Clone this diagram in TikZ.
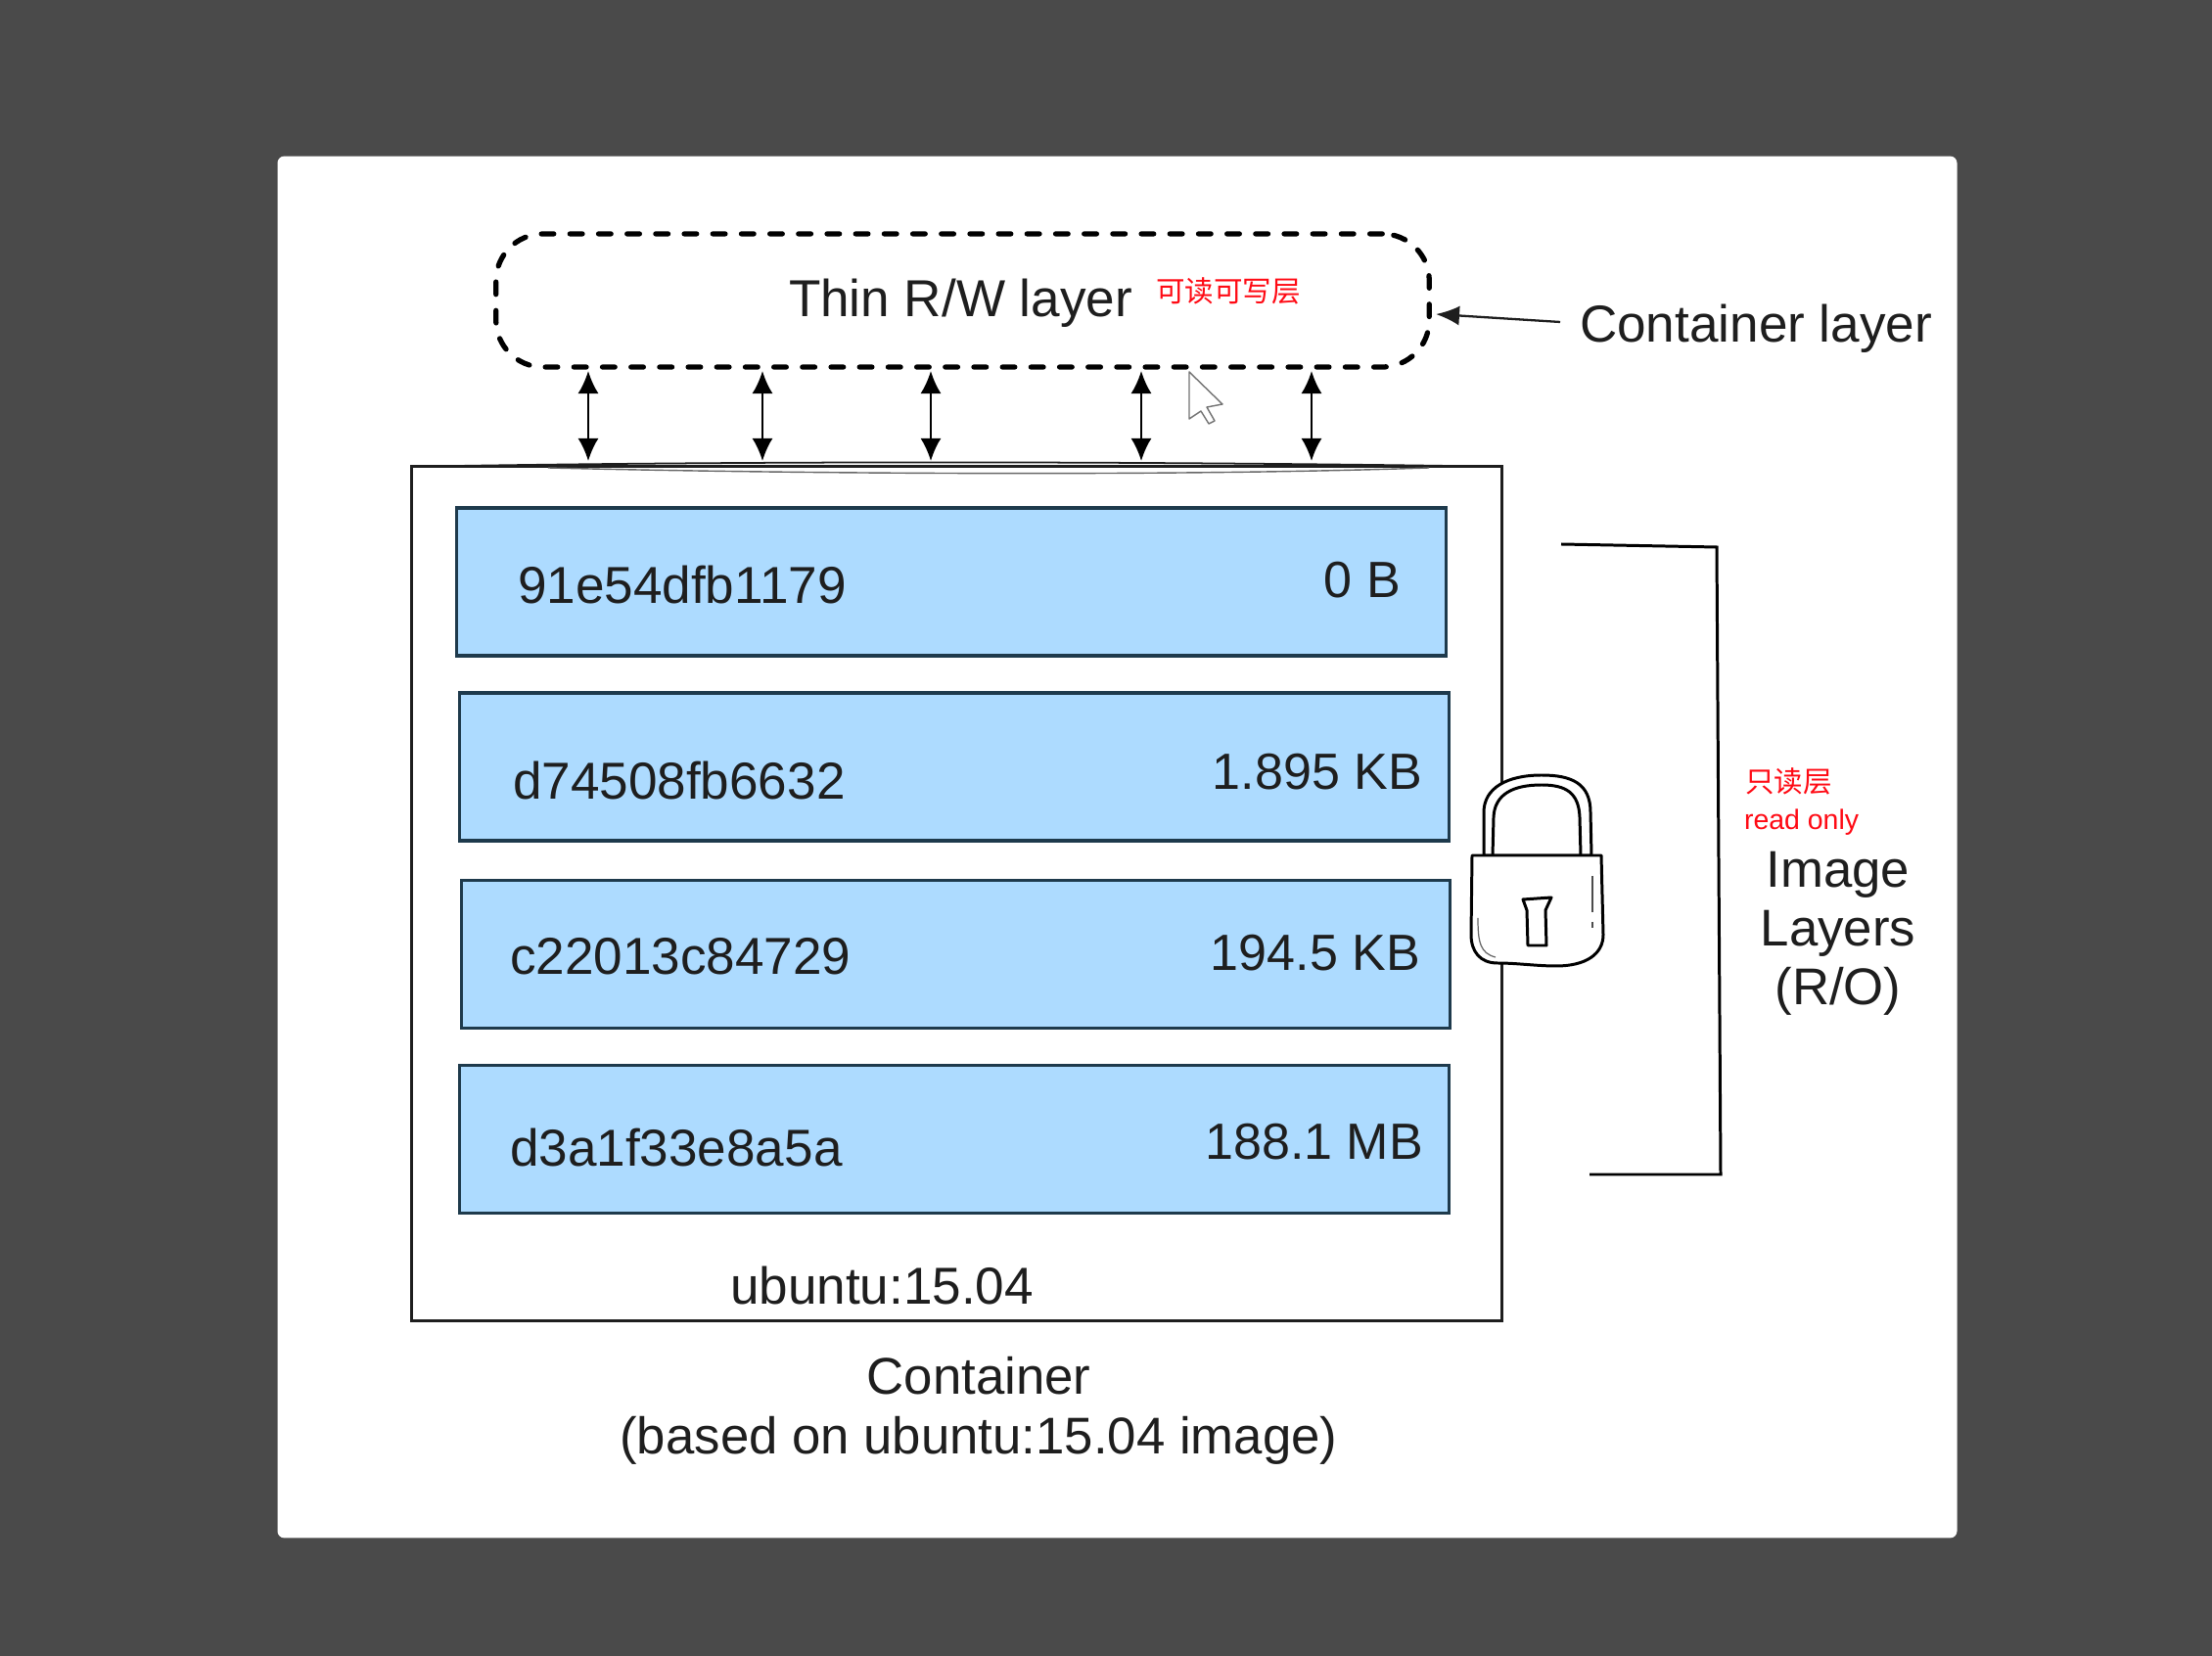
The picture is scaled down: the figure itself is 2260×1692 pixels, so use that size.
\documentclass[tikz,border=0pt]{standalone}
\usepackage{fontspec}
\setmainfont{Liberation Sans}
\newfontfamily\cjkfont{Noto Sans CJK SC}
\usetikzlibrary{arrows.meta}
\definecolor{bgdark}{HTML}{4A4A4A}
\definecolor{layerblue}{HTML}{ADDBFF}
\definecolor{layeredge}{HTML}{1E3A4C}
\definecolor{inkgray}{HTML}{1E1E1E}
\definecolor{notered}{HTML}{FF0A14}
\begin{document}
\begin{tikzpicture}[
    x=0.01cm,
    y=-0.01cm,
    every node/.style={inner sep=0pt, outer sep=0pt},
    panel/.style={fill=white, rounded corners=0.07cm, minimum width=17.15cm, minimum height=14.11cm},
    rwbox/.style={draw=black, line width=1.5pt, dash pattern=on 3.6pt off 4.7pt, line cap=round, rounded corners=0.48cm, minimum width=9.53cm, minimum height=1.36cm},
    outerbox/.style={draw=inkgray, line width=0.85pt, minimum width=11.13cm, minimum height=8.72cm},
    layerbox/.style={draw=layeredge, line width=0.95pt, fill=layerblue, minimum width=10.1cm, minimum height=1.51cm},
    label/.style={anchor=base west, font=\fontsize{15.1}{18}\selectfont, text=inkgray},
    size/.style={anchor=base east, font=\fontsize{14.8}{18}\selectfont, text=inkgray},
    middle/.style={anchor=base, font=\fontsize{15}{18}\selectfont, text=inkgray},
    note/.style={anchor=base west, font=\fontsize{8.1}{10}\selectfont, text=notered},
    rwarrow/.style={{Latex[length=0.23cm,width=0.21cm]}-{Latex[length=0.23cm,width=0.21cm]}, line width=0.65pt, black},
    leader/.style={-{Latex[length=0.24cm,width=0.2cm]}, line width=0.65pt, inkgray},
    bracket/.style={line width=0.85pt, black},
    lockline/.style={line width=0.85pt, black, line join=round}
]
\useasboundingbox (0,0) rectangle (2260,1692);
\fill[bgdark] (0,0) rectangle (2260,1692);
\node[panel] (paper) at (1141.5,865.5) {};

\node[rwbox] (rwlayer) at (983.5,307) {};
\node[label] (rwtext) at (806,324) {Thin R/W layer};
\node[note, font=\fontsize{8.4}{10}\selectfont\cjkfont] (rwnote) at (1181,309) {可读可写层};
\node[label] (ctext) at (1614,350) {Container layer};
\coordinate (cstart) at (1594,329);
\coordinate (cend) at (1467,321);
\draw[leader] (cstart) -- (cend);

\node[outerbox] (container) at (977.5,913) {};
\draw[line width=0.5pt, inkgray] (container.north west) .. controls (760,471) and (1150,471) .. (container.north east);
\draw[line width=0.4pt, black!60] (560,478) .. controls (800,484) and (1200,487) .. (1460,478);
\node[layerbox] (layera) at (972,594.5) {};
\node[layerbox] (layerb) at (975,783.5) {};
\node[layerbox] (layerc) at (976.5,975) {};
\node[layerbox] (layerd) at (975,1164) {};

\node[label] (ida) at (529,617) {91e54dfb1179};
\node[size] (sizea) at (1431,611) {0 B};
\node[label] (idb) at (524,817) {d74508fb6632};
\node[size] (sizeb) at (1453,807) {1.895 KB};
\node[label] (idc) at (521,996) {c22013c84729};
\node[size] (sizec) at (1451,992) {194.5 KB};
\node[label] (idd) at (521,1192) {d3a1f33e8a5a};
\node[size] (sized) at (1454,1185) {188.1 MB};

\node[label] (base) at (746,1333) {ubuntu:15.04};
\node[middle] (captiona) at (1000,1424) {Container};
\node[middle] (captionb) at (1000,1485) {(based on ubuntu:15.04 image)};

\foreach \name/\xpos in {a/601,b/779,c/951,d/1166,e/1340}{
    \coordinate (up\name) at (\xpos,379);
    \coordinate (down\name) at (\xpos,471);
    \draw[rwarrow] (up\name) -- (down\name);
}

\coordinate (brka) at (1595,556);
\coordinate (brkb) at (1754,559);
\coordinate (brkc) at (1758,1200);
\coordinate (brkd) at (1624,1200);
\draw[bracket] (brka) -- (brkb) -- (brkc) -- (brkd);

\node[note, font=\fontsize{8.4}{10}\selectfont\cjkfont] (ronote) at (1783,810) {只读层};
\node[note] (roeng) at (1782,848) {read only};
\node[middle] (imga) at (1878,907) {Image};
\node[middle] (imgb) at (1878,967) {Layers};
\node[middle] (imgc) at (1878,1027) {(R/O)};

\draw[lockline, fill=white] (1516,874) -- (1516,830) .. controls (1516,805) and (1540,792) .. (1575,792)
    .. controls (1605,792) and (1625,800) .. (1625,830) -- (1626,874) -- cycle;
\draw[lockline] (1525,874) -- (1526,835) .. controls (1527,812) and (1545,802) .. (1575,802)
    .. controls (1600,802) and (1613,810) .. (1614,835) -- (1615,874);
\draw[lockline, fill=white] (1504,874) -- (1636,874) -- (1638,955)
    .. controls (1638,975) and (1620,987) .. (1590,987)
    .. controls (1570,987) and (1550,984) .. (1530,984)
    .. controls (1512,984) and (1503,972) .. (1503,955) -- cycle;
\draw[lockline] (1556,919) -- (1585,917) -- (1579,930) -- (1580,966) -- (1561,966) -- (1560,930) -- cycle;
\draw[line width=0.35pt, black!70] (1627,895) -- (1627,932);
\draw[line width=0.5pt, black!70] (1627,942) -- (1627,948);
\draw[line width=0.35pt, black!60] (1510,938) .. controls (1510,962) and (1512,974) .. (1528,978);

\draw[line width=0.4pt, black!55, fill=white, line join=round] (1215,380) -- (1249,413) -- (1233,416) -- (1241,430)
    -- (1235,433) -- (1227,420) -- (1215,428) -- cycle;
\end{tikzpicture}
\end{document}
